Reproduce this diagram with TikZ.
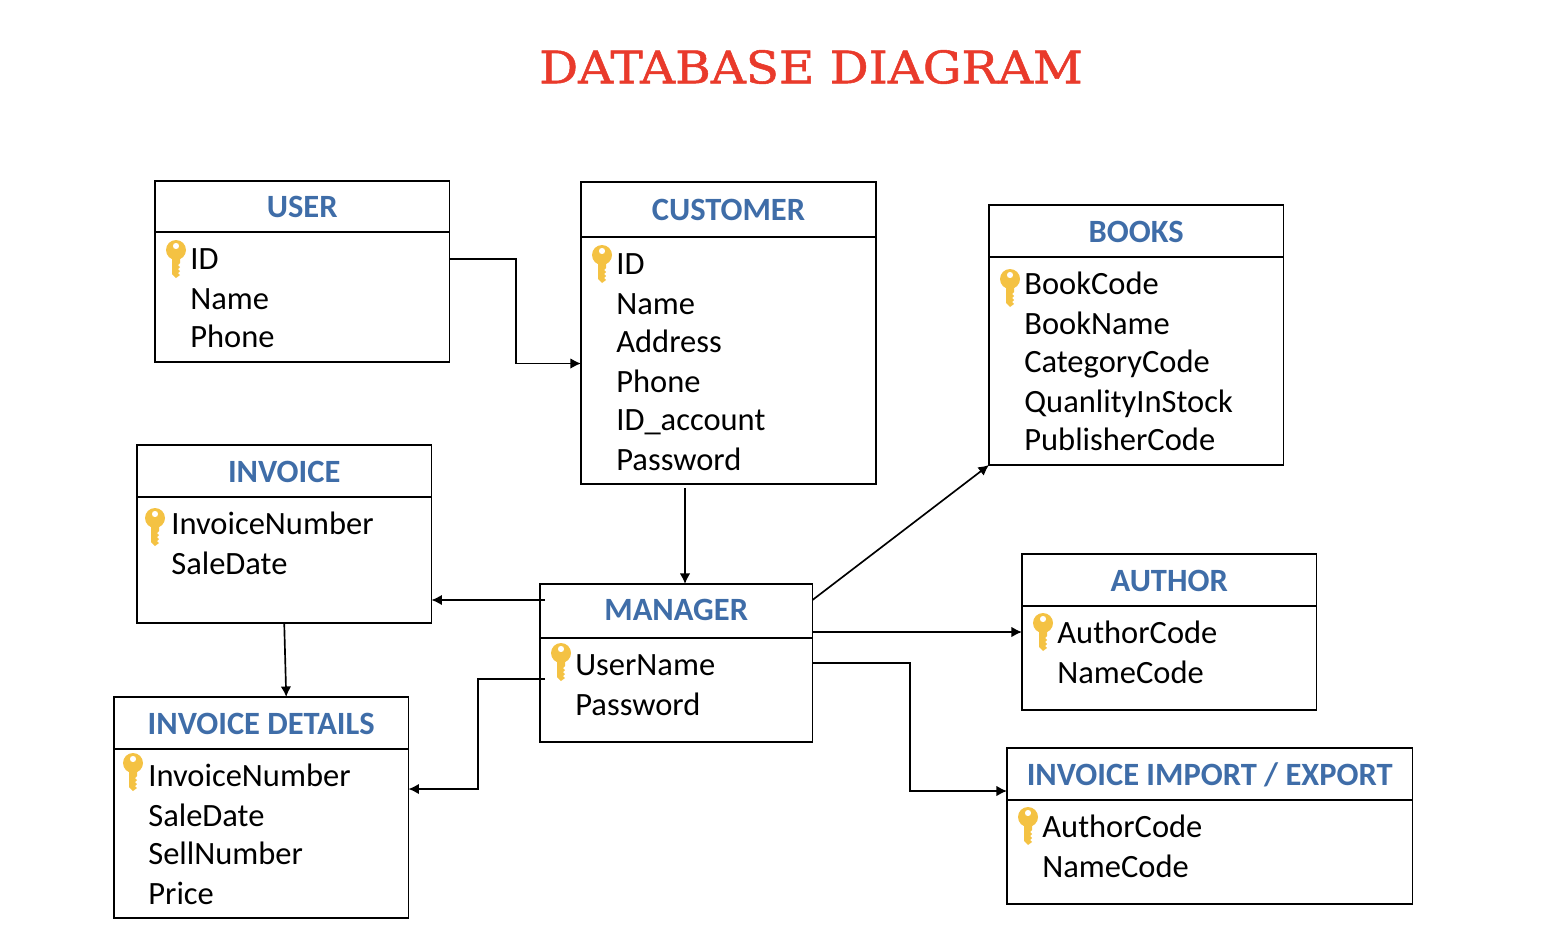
\documentclass[tikz,border=0pt]{standalone}
\usepackage{fontspec}
\setmainfont{Carlito}
\newfontfamily\titlefont[FakeBold=1.2, FakeStretch=1.082]{DejaVu Serif}
\definecolor{headblue}{HTML}{3F6DA8}
\definecolor{titlered}{HTML}{E93A2B}
\definecolor{keygold}{HTML}{F4C243}
\usetikzlibrary{calc,arrows.meta}
\tikzset{
    boxhead/.style={draw, line width=0.85pt, anchor=north west, inner sep=0pt, outer sep=0pt, minimum height=#1*0.02cm},
    boxbody/.style={draw, line width=0.85pt, anchor=north west, inner sep=0pt, outer sep=0pt, minimum height=#1*0.02cm},
    headtext/.style={text=headblue, text height=13pt, text depth=0pt, font=\fontsize{18.5}{20}\selectfont\bfseries},
    field/.style={anchor=base west, inner sep=0pt, xshift=-0.02cm, yshift=-0.01cm, font=\fontsize{18.5}{20}\selectfont},
    conn/.style={-{Latex[length=6pt,width=6pt]}, line width=0.95pt},
    keyicon/.pic={
        \fill[keygold, even odd rule] (0,0) circle (10) (0,-4) circle (3.2);
        \fill[keygold] (-4,6) -- (-4,24) -- (0,28) -- (4,25) -- (2,23) -- (4,21) -- (2,19) -- (4,17) -- (2,15) -- (4,13) -- (4,6) -- cycle;
    }
}
\begin{document}
\begin{tikzpicture}[x=0.02cm, y=-0.02cm]
    \useasboundingbox (0,0) rectangle (1564,940);

    \node at (811,67) (title) {\titlefont\fontsize{25.5}{28}\selectfont\textcolor{titlered}{DATABASE DIAGRAM}};

    % user
    \node at (155,181) [boxhead=51, minimum width=5.89cm, headtext] (userhead) {USER};
    \node at (155,232) [boxbody=130, minimum width=5.89cm] (userbody) {};
    \pic at (176,250) {keyicon};
    \node at (191,269) [field] (userid) {ID};
    \node at (191,309) [field] (username) {Name};
    \node at (191,347) [field] (userphone) {Phone};

    % customer
    \node at (581,182) [boxhead=55, minimum width=5.9cm, headtext] (customerhead) {CUSTOMER};
    \node at (581,237) [boxbody=247, minimum width=5.9cm] (customerbody) {};
    \pic at (602,255) {keyicon};
    \node at (617,274) [field] (customerid) {ID};
    \node at (617,314) [field] (customername) {Name};
    \node at (617,352) [field] (customeraddress) {Address};
    \node at (617,392) [field] (customerphone) {Phone};
    \node at (617,430) [field] (customeraccount) {ID\_account};
    \node at (617,470) [field] (customerpassword) {Password};

    % books
    \node at (989,205) [boxhead=52, minimum width=5.89cm, headtext] (bookshead) {BOOKS};
    \node at (989,257) [boxbody=208, minimum width=5.89cm] (booksbody) {};
    \pic at (1010,279) {keyicon};
    \node at (1025,294) [field] (bookcode) {BookCode};
    \node at (1025,334) [field] (bookname) {BookName};
    \node at (1025,372) [field] (bookcategory) {CategoryCode};
    \node at (1025,412) [field] (bookstock) {QuanlityInStock};
    \node at (1025,450) [field] (bookpublisher) {PublisherCode};

    % invoice
    \node at (137,445) [boxhead=52, minimum width=5.89cm, headtext] (invoicehead) {INVOICE};
    \node at (137,497) [boxbody=126, minimum width=5.89cm] (invoicebody) {};
    \pic at (155,518) {keyicon};
    \node at (172,534) [field] (invoicenumber) {InvoiceNumber};
    \node at (172,574) [field] (invoicedate) {SaleDate};

    % manager
    \node at (540,584) [boxhead=54, minimum width=5.45cm, headtext, text height=11pt] (managerhead) {MANAGER};
    \node at (540,638) [boxbody=104, minimum width=5.45cm] (managerbody) {};
    \pic at (561,653) {keyicon};
    \node at (576,675) [field] (managername) {UserName};
    \node at (576,715) [field] (managerpassword) {Password};

    % author
    \node at (1022,554) [boxhead=52, minimum width=5.89cm, headtext] (authorhead) {AUTHOR};
    \node at (1022,606) [boxbody=104, minimum width=5.89cm] (authorbody) {};
    \pic at (1043,623) {keyicon};
    \node at (1058,643) [field] (authorcode) {AuthorCode};
    \node at (1058,683) [field] (authorname) {NameCode};

    % invoice details
    \node at (114,697) [boxhead=52, minimum width=5.89cm, headtext] (detailshead) {INVOICE DETAILS};
    \node at (114,749) [boxbody=169, minimum width=5.89cm] (detailsbody) {};
    \pic at (133,763) {keyicon};
    \node at (149,786) [field] (detailsnumber) {InvoiceNumber};
    \node at (149,826) [field] (detailsdate) {SaleDate};
    \node at (149,864) [field] (detailssell) {SellNumber};
    \node at (149,904) [field] (detailsprice) {Price};

    % invoice import / export
    \node at (1007,748) [boxhead=52, minimum width=8.11cm, headtext] (importhead) {INVOICE IMPORT / EXPORT};
    \node at (1007,800) [boxbody=104, minimum width=8.11cm] (importbody) {};
    \pic at (1028,817) {keyicon};
    \node at (1043,837) [field] (importcode) {AuthorCode};
    \node at (1043,877) [field] (importname) {NameCode};

    % free ends of the connectors
    \coordinate (customerout) at (685,488);
    \coordinate (managerleft) at (545,600);
    \coordinate (managerlow) at (545,679);

    \draw[conn] (userbody.east |- 0,259) -- (516,259) |- ([yshift=-0.06cm]customerbody.west);
    \draw[conn] (customerout) -- (customerout |- managerhead.north);
    \draw[conn] (managerleft) -- (managerleft -| invoicebody.east);
    \draw[conn] (invoicebody.south) -- ([xshift=0.5cm]detailshead.north);
    \draw[conn] (managerlow) -- (478,679) |- ([yshift=0.89cm]detailsbody.east);
    \draw[conn] (managerhead.north east |- managerleft) -- (booksbody.south west);
    \draw[conn] (managerhead.east) ++(0,21) -- (authorbody.west |- 0,632);
    \draw[conn] (managerbody.east |- 0,663) -- (910,663) |- ([yshift=0.18cm]importbody.north west);
\end{tikzpicture}
\end{document}
